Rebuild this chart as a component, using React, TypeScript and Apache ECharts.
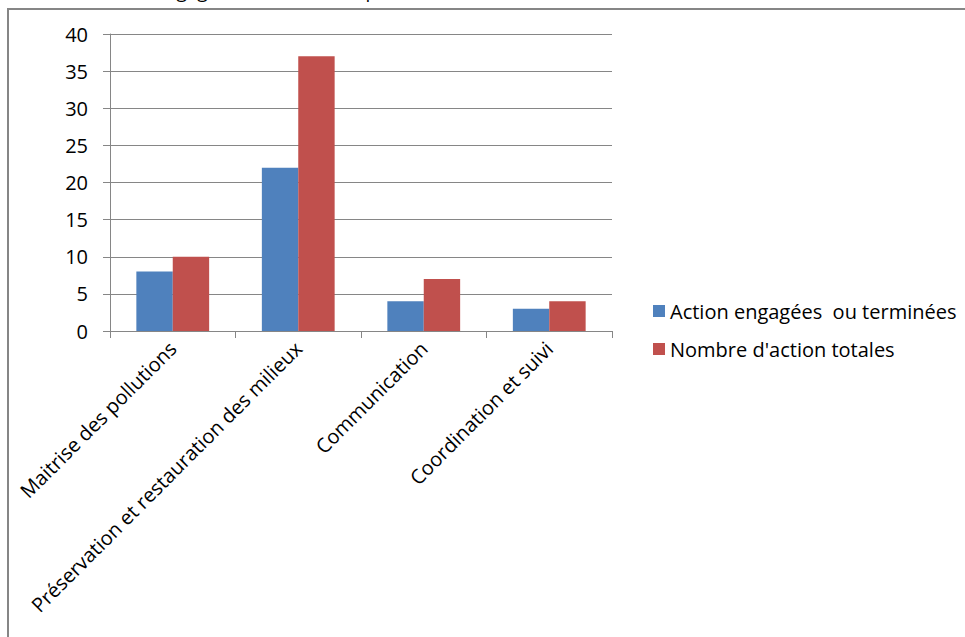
import React, { useEffect, useRef } from "react";
import * as echarts from "echarts";

const categories = [
  "Maitrise des pollutions",
  "Préservation et restauration des milieux",
  "Communication",
  "Coordination et suivi",
];
const seriesNames = ["Action engagées  ou terminées", "Nombre d'action totales"];
const engagees = [8, 22, 4, 3];
const totales = [10, 37, 7, 4];
const titleText = "Taux des actions engagées ou terminées par volet du contrat de rivière :";

const FONT = "'Open Sans', 'Noto Sans', sans-serif";

export default function App() {
  const ref = useRef<HTMLDivElement>(null);
  useEffect(() => {
    if (!ref.current) return;
    const chart = echarts.init(ref.current, null, { renderer: "svg" });
    chart.setOption({
      animation: false,
      backgroundColor: "#ffffff",
      textStyle: { fontFamily: FONT },
      graphic: [
        {
          type: "text",
          left: 2,
          top: -19,
          style: { text: titleText, fontSize: 19, fontFamily: FONT, fill: "#000" },
        },
        {
          type: "rect",
          shape: { x: 8, y: 9, width: 1000, height: 700 },
          style: { fill: "none", stroke: "#868686", lineWidth: 2 },
        },
      ],
      legend: {
        orient: "vertical",
        left: 648,
        top: 296,
        itemWidth: 12,
        itemHeight: 12,
        itemGap: 18,
        icon: "rect",
        textStyle: { fontSize: 20, color: "#000", fontFamily: FONT },
        data: seriesNames,
      },
      grid: { left: 110, top: 34, width: 502, height: 297, containLabel: false },
      xAxis: {
        type: "category",
        data: categories,
        axisLine: { lineStyle: { color: "#868686" } },
        axisTick: { show: true, length: 7, lineStyle: { color: "#868686" } },
        axisLabel: {
          rotate: 45,
          interval: 0,
          fontSize: 20,
          color: "#000",
          margin: 14,
          fontFamily: FONT,
        },
      },
      yAxis: {
        type: "value",
        min: 0,
        max: 40,
        interval: 5,
        axisLine: { show: true, lineStyle: { color: "#868686" } },
        axisTick: { show: true, length: 7, lineStyle: { color: "#868686" } },
        splitLine: { lineStyle: { color: "#868686" } },
        axisLabel: { fontSize: 20, color: "#000", margin: 22, fontFamily: FONT },
      },
      series: [
        {
          name: seriesNames[0],
          type: "bar",
          data: engagees,
          itemStyle: { color: "#4F81BD" },
          barGap: "0%",
          barCategoryGap: "42%",
        },
        {
          name: seriesNames[1],
          type: "bar",
          data: totales,
          itemStyle: { color: "#C0504D" },
          barGap: "0%",
          barCategoryGap: "42%",
        },
      ],
    });
    return () => chart.dispose();
  }, []);
  return (
    <div
      ref={ref}
      style={{ position: "fixed", left: 0, top: 0, width: 965, height: 637 }}
    />
  );
}
